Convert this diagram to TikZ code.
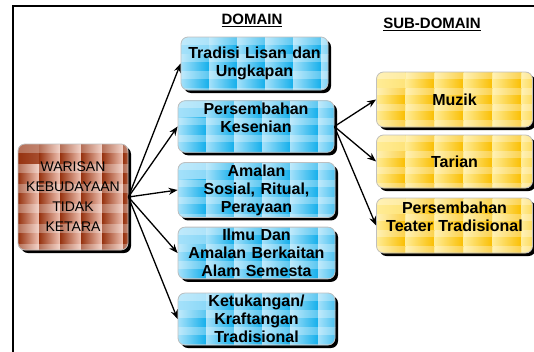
\documentclass[tikz,border=0pt]{standalone}
\usepackage{fontspec}
\setmainfont{Liberation Sans}
\usetikzlibrary{arrows.meta, calc, shadows}
\definecolor{bluD} {RGB}{ 20,175,235}
\definecolor{bluL} {RGB}{165,225,250}
\definecolor{ylwD} {RGB}{250,190,  0}
\definecolor{ylwL} {RGB}{255,236,150}
\definecolor{brnD} {RGB}{150, 50, 15}
\definecolor{brnL} {RGB}{240,195,180}
% woven tile fill: light, dark, cell width, cell height
\newcommand{\weave}[4]{%
  \foreach \ci in {0,...,7}{\foreach \cj in {0,...,6}{%
    \shade[sharp corners,left color=#1,right color=#2]
      ($(path picture bounding box.north west)+(\ci*#3,\cj*#4)$)
      rectangle ++(#3,#4);
    \fill[sharp corners,white,opacity=0.3]
      ($(path picture bounding box.north west)+(\ci*#3,\cj*#4)$)
      rectangle ++(#3,0.45*#4);}}}
\tikzset{
  % Blue domain box
  DomB/.style={rectangle,rounded corners=7pt,draw=white!75!black,
               fill=bluD,text width=#1,align=center,inner sep=2pt,
               font=\fontsize{16}{18}\selectfont\bfseries,line width=0.8pt,
               path picture={\weave{bluL}{bluD}{28}{17}},
               drop shadow={shadow xshift=3pt,shadow yshift=-3pt,
                            opacity=1,fill=black}},
  DomB/.default=152pt,
  % Yellow sub-domain box
  SubB/.style={rectangle,rounded corners=7pt,draw=white!75!black,
               fill=ylwD,text width=152pt,align=center,inner sep=2pt,
               minimum width=155pt,
               font=\fontsize{16}{18}\selectfont\bfseries,line width=0.8pt,
               path picture={\weave{ylwL}{ylwD}{29}{16}},
               drop shadow={shadow xshift=3pt,shadow yshift=-3pt,
                            opacity=1,fill=black}},
  % Brown root box
  RootB/.style={rectangle,rounded corners=7pt,draw=white!75!black,
                fill=brnD,align=center,inner sep=2pt,
                font=\fontsize{14}{20}\selectfont,line width=0.8pt,
                path picture={\weave{brnD}{brnL}{21}{20}},
                drop shadow={shadow xshift=3pt,shadow yshift=-3pt,
                             opacity=1,fill=black}},
  Hd/.style={font=\fontsize{15}{18}\selectfont\bfseries},
  Arr/.style={-{Stealth[length=9pt,width=7pt]},line width=1.3pt,color=black},
}
\begin{document}
\begin{tikzpicture}[x=1pt,y=-1pt]
  \useasboundingbox (0,0) rectangle (534,351);
  % frame, only top and left edges show
  \draw[line width=2pt] (13,352) -- (13,6) -- (535,6);
  % headings
  \node[Hd] at (252,20) (domhd) {\underline{DOMAIN}};
  \node[Hd] at (432,24) (subhd) {\underline{SUB-DOMAIN}};
  % root
  \node[RootB,minimum width=110pt,minimum height=106pt]
        at (73,197) (root) {WARISAN\\KEBUDAYAAN\\TIDAK\\KETARA};
  % domain column
  \node[DomB=143pt,minimum width=145pt,minimum height=53pt]
        at (254.5,63.5) (d1) {Tradisi Lisan dan\\Ungkapan};
  \node[DomB,minimum width=154pt,minimum height=51pt]
        at (256,126.5) (d2) {Persembahan\\Kesenian\\\mbox{}};
  \node[DomB,minimum width=157pt,minimum height=54pt]
        at (256.5,190) (d3) {Amalan\\Sosial, Ritual,\\Perayaan};
  \node[DomB,minimum width=157pt,minimum height=50pt]
        at (256.5,253) (d4) {Ilmu Dan\\Amalan Berkaitan\\Alam Semesta};
  \node[DomB,minimum width=157pt,minimum height=52pt]
        at (256.5,319) (d5) {Ketukangan/\\Kraftangan\\Tradisional};
  % sub-domain column
  \node[SubB,minimum height=55pt] at (454.5,99.5)  (s1) {Muzik};
  \node[SubB,minimum height=53pt] at (454.5,161.5) (s2) {Tarian};
  \node[SubB,minimum height=55pt] at (454.5,225.5) (s3)
        {Persembahan\\Teater Tradisional\\\mbox{}};
  % arrows
  \foreach \d in {d1,d2,d3,d4,d5}
    \draw[Arr] (root.east) -- (\d.west);
  \foreach \s in {s1,s2,s3}
    \draw[Arr] (d2.east) -- (\s.west);
\end{tikzpicture}
\end{document}
